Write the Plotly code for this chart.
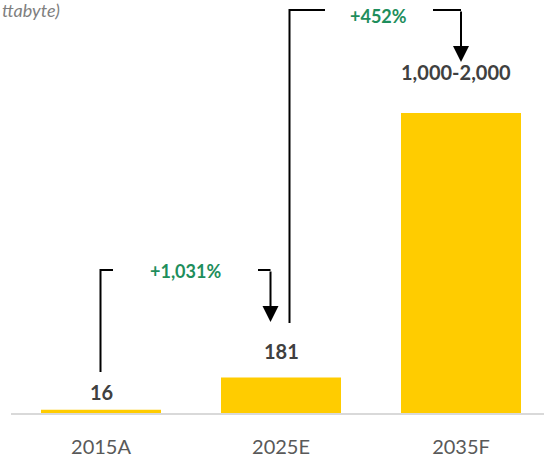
import plotly.graph_objects as go

categories = ["2015A", "2025E", "2035F"]
values = [16, 181, 1530]
value_labels = ["16", "181", "1,000-2,000"]
growth_labels = ["+1,031%", "+452%"]
title_text = "ttabyte)"

W, H = 544, 458
ML, MR, MT, MB = 11, 0, 0, 45
PLOT_W = W - ML - MR
PLOT_H = H - MT - MB
BAND = 180.0
YMAX = PLOT_H / (35.5 / 181)

X0 = -0.5
X1 = X0 + PLOT_W / BAND


def px2x(p):
    return X0 + (p - ML) / BAND


def py2y(p):
    return (MT + PLOT_H - p) / PLOT_H * YMAX


BAR_COLOR = "#FFCC00"
DARK = "#404040"
GREEN = "#1E8E5C"
FONT = "Lato"

fig = go.Figure()
fig.add_trace(go.Bar(
    x=list(range(len(categories))), y=values,
    marker=dict(color=BAR_COLOR, line=dict(width=0)),
    hoverinfo="skip",
))

# value labels above bars
label_offsets = [17.5, 26.5, 41]
label_xshift = [0, 0, -5]
for i, (v, t, off, xs) in enumerate(zip(values, value_labels, label_offsets, label_xshift)):
    fig.add_annotation(x=i, y=v, xref="x", yref="y", text=f"<b>{t}</b>",
                       showarrow=False, yanchor="middle", yshift=off, xshift=xs,
                       font=dict(family=FONT, size=20, color=DARK))

LW = 2
line = dict(color="black", width=LW)

# bracket 1: 2015A -> 2025E
y_top1 = 270
fig.add_shape(type="path", xref="x", yref="y", line=line,
              path=f"M {px2x(100.5)},{py2y(372)} L {px2x(100.5)},{py2y(y_top1)} L {px2x(113)},{py2y(y_top1)}")
fig.add_shape(type="path", xref="x", yref="y", line=line,
              path=f"M {px2x(258)},{py2y(y_top1)} L {px2x(270.5)},{py2y(y_top1)}")
fig.add_annotation(x=px2x(270.5), y=py2y(322), xref="x", yref="y", text="",
                   showarrow=True, arrowhead=2, arrowsize=1.6, arrowwidth=LW,
                   arrowcolor="black", ax=0, ay=-(322 - y_top1), axref="pixel", ayref="pixel")
fig.add_annotation(x=px2x(185), y=py2y(271), xref="x", yref="y",
                   text=f"<b>{growth_labels[0]}</b>", showarrow=False,
                   font=dict(family=FONT, size=18, color=GREEN))

# bracket 2: 2025E -> 2035F
y_top2 = 10
fig.add_shape(type="path", xref="x", yref="y", line=line,
              path=f"M {px2x(289.5)},{py2y(323)} L {px2x(289.5)},{py2y(y_top2)} L {px2x(325)},{py2y(y_top2)}")
fig.add_shape(type="path", xref="x", yref="y", line=line,
              path=f"M {px2x(433)},{py2y(y_top2)} L {px2x(461)},{py2y(y_top2)}")
fig.add_annotation(x=px2x(461), y=py2y(62), xref="x", yref="y", text="",
                   showarrow=True, arrowhead=2, arrowsize=1.6, arrowwidth=LW,
                   arrowcolor="black", ax=0, ay=-(62 - y_top2), axref="pixel", ayref="pixel")
fig.add_annotation(x=px2x(378), y=py2y(15.5), xref="x", yref="y",
                   text=f"<b>{growth_labels[1]}</b>", showarrow=False,
                   font=dict(family=FONT, size=18, color=GREEN))

# cropped title fragment
fig.add_annotation(x=-ML / PLOT_W, y=1, xref="paper", yref="paper",
                   xanchor="left", yanchor="top", showarrow=False, yshift=3,
                   text=f"<i>{title_text}</i>",
                   font=dict(family=FONT, size=18, color="#7F7F7F"))

fig.update_layout(
    width=W, height=H,
    margin=dict(l=ML, r=MR, t=MT, b=MB, pad=0),
    paper_bgcolor="white", plot_bgcolor="white",
    bargap=1/3,
    showlegend=False,
    xaxis=dict(
        range=[X0, X1], tickmode="array",
        tickvals=list(range(len(categories))), ticktext=categories,
        showgrid=False, zeroline=False,
        showline=True, linecolor="#D9D9D9", linewidth=1.5,
        ticks="", ticklabelstandoff=15,
        tickfont=dict(family=FONT, size=20, color="#595959"),
    ),
    yaxis=dict(range=[0, YMAX], visible=False, showgrid=False, zeroline=False),
)

fig.write_html("out.html", config={"displayModeBar": False},
               post_script="document.body.style.margin='0';document.body.style.overflow='hidden';")
